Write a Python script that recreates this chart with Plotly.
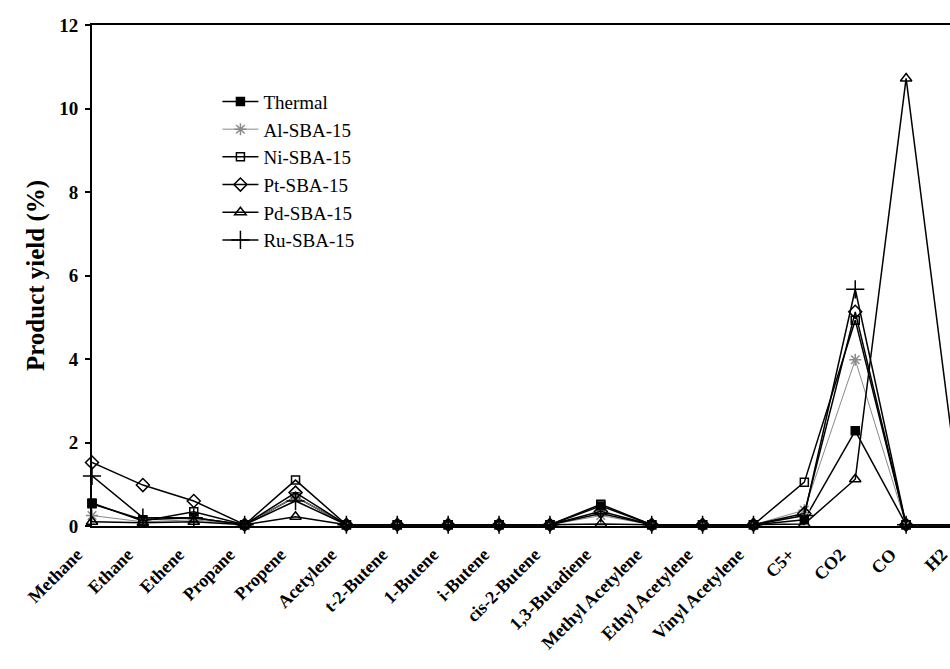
import plotly.graph_objects as go

categories = ["Methane", "Ethane", "Ethene", "Propane", "Propene", "Acetylene",
              "t-2-Butene", "1-Butene", "i-Butene", "cis-2-Butene", "1,3-Butadiene",
              "Methyl Acetylene", "Ethyl Acetylene", "Vinyl Acetylene", "C5+", "CO2",
              "CO", "H2"]

thermal = [0.53, 0.15, 0.20, 0.03, 0.70, 0.03, 0.03, 0.03, 0.03, 0.03, 0.48, 0.03, 0.03, 0.03, 0.15, 2.28, 0.03, 0.03]
al_sba = [0.25, 0.10, 0.15, 0.03, 0.70, 0.03, 0.03, 0.03, 0.03, 0.03, 0.25, 0.03, 0.03, 0.03, 0.38, 3.98, 0.03, 0.03]
ni_sba = [0.55, 0.12, 0.34, 0.03, 1.10, 0.03, 0.03, 0.03, 0.03, 0.03, 0.52, 0.03, 0.03, 0.03, 1.05, 4.93, 0.03, 0.03]
pt_sba = [1.52, 0.98, 0.60, 0.03, 0.80, 0.03, 0.03, 0.03, 0.03, 0.03, 0.35, 0.03, 0.03, 0.03, 0.30, 5.13, 0.03, 0.03]
pd_sba = [0.10, 0.08, 0.10, 0.03, 0.22, 0.03, 0.03, 0.03, 0.03, 0.03, 0.05, 0.03, 0.03, 0.03, 0.05, 1.12, 10.72, 1.15]
ru_sba = [1.20, 0.20, 0.20, 0.03, 0.60, 0.03, 0.03, 0.03, 0.03, 0.03, 0.30, 0.03, 0.03, 0.03, 0.25, 5.67, 0.03, 0.03]

series = [
    ("Thermal", thermal, "square", "black", 1.5, 8),
    ("Al-SBA-15", al_sba, "asterisk-open", "#8a8a8a", 1.0, 10),
    ("Ni-SBA-15", ni_sba, "square-open", "black", 1.5, 8),
    ("Pt-SBA-15", pt_sba, "diamond-open", "black", 1.5, 10),
    ("Pd-SBA-15", pd_sba, "triangle-up-open", "black", 1.5, 10),
    ("Ru-SBA-15", ru_sba, "cross-thin-open", "black", 1.5, 13),
]

serif = "Liberation Serif"
fig = go.Figure()
for i, (name, vals, sym, col, lw, ms) in enumerate(series):
    fig.add_trace(go.Scatter(
        x=categories, y=vals, name=name, mode="lines+markers",
        line=dict(color=col, width=lw),
        marker=dict(symbol=sym, size=ms, color=col, line=dict(color=col, width=1.5)),
        cliponaxis=False, legendgroup=f"g{i}",
    ))

fig.update_layout(
    width=1000, height=669,
    margin=dict(l=92, r=43, t=25, b=143),
    paper_bgcolor="white", plot_bgcolor="white",
    font=dict(family=serif, color="black"),
    showlegend=True,
    legend=dict(x=0.145, y=0.885, xanchor="left", yanchor="top",
                bgcolor="rgba(0,0,0,0)", font=dict(family=serif, size=19, color="black"),
                tracegroupgap=0, itemwidth=36),
)
fig.update_xaxes(
    type="category", categoryorder="array", categoryarray=categories,
    range=[0, 17], showline=True, linecolor="black", linewidth=2, mirror=True,
    ticks="", tickangle=-45, showgrid=False, zeroline=False,
    ticklabelshift=-15, ticklabelstandoff=9,
    tickfont=dict(family=serif, size=18, weight="bold", color="black"),
)
fig.update_yaxes(
    range=[0, 12], dtick=2, showline=True, linecolor="black", linewidth=2, mirror=True,
    ticks="outside", ticklen=5, tickwidth=1.5, tickcolor="black", showgrid=False, zeroline=False,
    ticklabelstandoff=3,
    tickfont=dict(family=serif, size=19, weight="bold", color="black"),
    title=dict(text="Product yield (%)", font=dict(family=serif, size=25, weight="bold", color="black"), standoff=7),
)

fig.write_html("out.html", post_script="document.documentElement.style.overflow='hidden';document.body.style.overflow='hidden';")
